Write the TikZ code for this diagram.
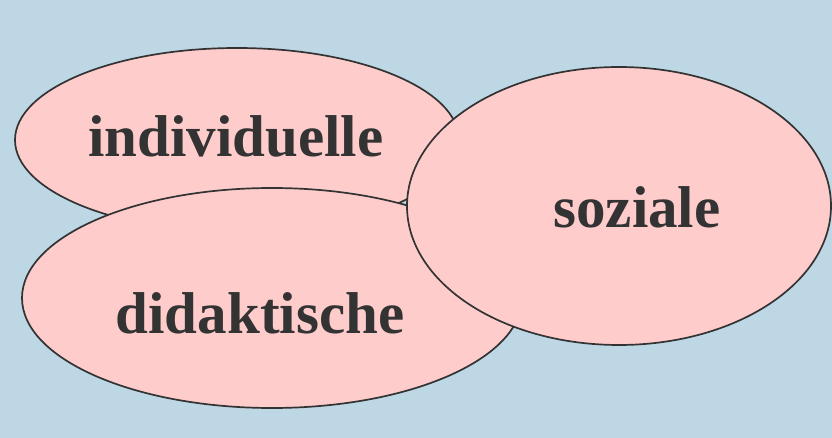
\documentclass[tikz,border=0pt]{standalone}
\usepackage{fontspec}
\setmainfont{Liberation Serif}
\definecolor{bgblue}{HTML}{BDD7E4}
\definecolor{pinkfill}{HTML}{FFCCCC}
\definecolor{ink}{HTML}{333333}
\begin{document}
\begin{tikzpicture}[x=1pt,y=-1pt,
  blob/.style={draw=ink, line width=1.7pt, fill=pinkfill},
  lbl/.style={text=ink, font=\fontsize{59}{61}\selectfont\bfseries, inner sep=0pt, anchor=base}]
\fill[bgblue] (0,0) rectangle (832,438);
\useasboundingbox (0,0) rectangle (832,438);
\draw[blob] (237,140) ellipse [x radius=222, y radius=92];
\draw[blob] (272,298) ellipse [x radius=250, y radius=110];
\draw[blob] (619,206) ellipse [x radius=212, y radius=139];
\node[lbl] (ind) at (236,157) {individuelle};
\node[lbl] (did) at (260,333) {didaktische};
\node[lbl] (soz) at (637,228) {soziale};
\end{tikzpicture}
\end{document}
